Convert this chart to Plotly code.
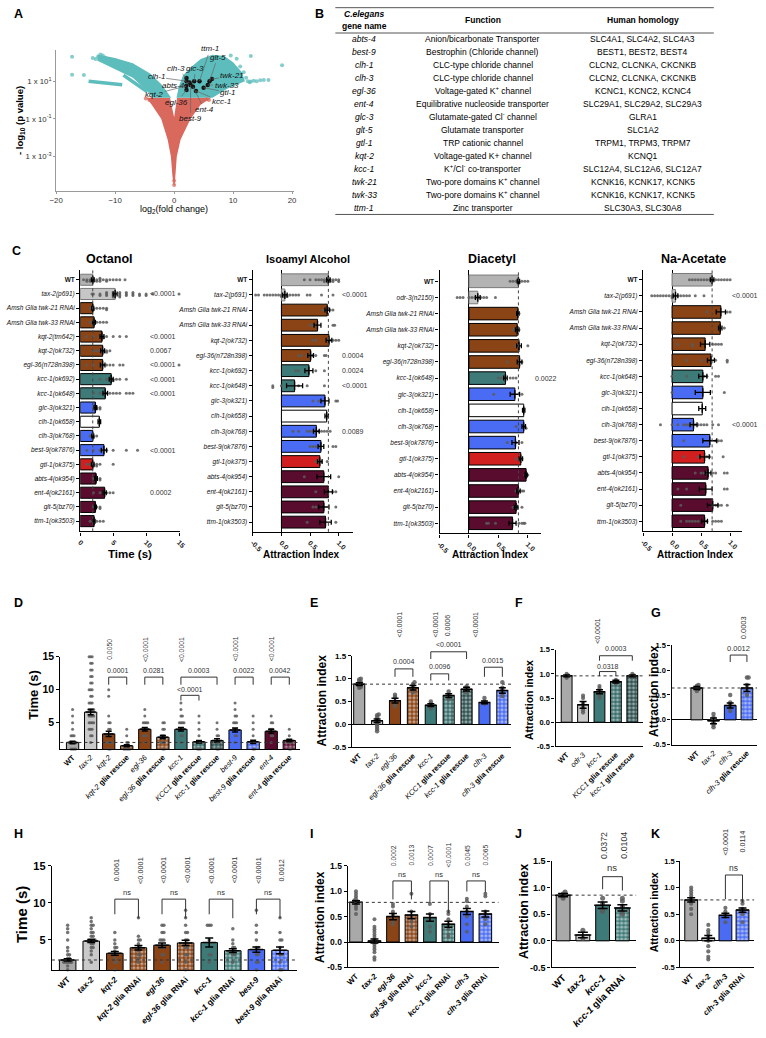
import math
import plotly.graph_objects as go

W, H = 766, 1038
FONT = "Liberation Sans, Arial, sans-serif"


def fx(p):
    return p / W


def fy(p):
    return 1 - p / H


# ---------------------------------------------------------------- colours
GREY = "#a9a9a9"
LGREY = "#c9c9c9"
BROWN = "#8b4416"
TEAL = "#3e7a77"
TEAL2 = "#356a67"
TEAL3 = "#2b4f4e"
BLUE = "#4a6cf4"
RED = "#d11f1f"
MAROON = "#5a0c2e"
WHITE = "#ffffff"
DOT = "#5b5b5b"
VTEAL = "#5dbcbc"
VRED = "#d9685d"

# ---------------------------------------------------------------- panel A data
volc_up_left_x = [-13.0, -10.0, -7.0, -4.0, -2.0, -0.8, -0.5, -3.5, -5.0, -7.0, -9.0, -11.0, -13.0]
volc_up_left_y = [260, 170, 90, 25, 6, 1.6, 1.3, 1.3, 4, 15, 30, 60, 120]
volc_up_right_x = [0.4, 0.8, 1.5, 3.0, 4.5, 6.5, 8.5, 10.0, 11.5, 12.0, 9.0, 6.5]
volc_up_right_y = [1.3, 5, 20, 60, 150, 250, 220, 100, 30, 10, 4, 1.3]
volc_ns_x = [-4.7, -0.7, 0.0, 0.5, 6.3, 4.5, 2.8, 1.1, 0.45, 0.25, 0.1, -0.1, -0.3, -0.55, -1.1, -2.2, -3.8]
volc_ns_y = [1.3, 1.3, 0.12, 1.3, 1.3, 0.55, 0.1, 0.008, 0.001, 0.0001, 0.00003, 0.00003, 0.0001, 0.001, 0.008, 0.1, 0.55]
volc_streak1_x = [-14.5, -8.8]
volc_streak1_y = [10, 6.5]
volc_streak2_x = [-8.6, -4.6]
volc_streak2_y = [21, 2.8]
volc_sig_pts_x = [-17.3, -17.3, -15.3, -13.8, -13.3, -12.9, -12.5, -12.1, -11.7, -11.0, -10.4, -9.8, -9.0, -8.2,
                  -7.5, -6.8, -6.0, -5.2, -4.5, 10.6, 12.5, 13.0, 13.5, 14.0, 14.6, 15.2, 16.0, 12.8, 18.3, 13.0,
                  9.6, 11.8, 8.5, 7.2, 11.2, 12.2]
volc_sig_pts_y = [200, 22, 21, 168, 150, 200, 260, 230, 180, 150, 120, 90, 70, 60, 45, 30, 20, 12, 8, 157, 10,
                  9.5, 10.5, 10, 11, 11.5, 11.5, 8.8, 69, 215, 230, 30, 40, 25, 60, 15]
volc_ns_pts_x = [0.0, 0.0, -4.8, -4.2, -3.8, 5.5, 5.9]
volc_ns_pts_y = [0.00005, 0.00003, 1.2, 1.0, 1.1, 1.1, 1.0]
gene_names = ["ttm-1", "glt-5", "clh-3", "glc-3", "clh-1", "twk-21", "abts-4", "twk-33", "kqt-2", "gtl-1",
              "egl-36", "kcc-1", "ent-4", "best-9"]
gene_fc = [4.3, 6.0, 2.1, 3.4, 2.1, 6.4, 2.6, 5.7, 2.06, 5.0, 2.1, 3.7, 3.2, 2.8]
gene_p = [10, 10, 14.9, 10, 10, 12.8, 8.5, 6.2, 5.5, 4.5, 3.4, 3.0, 5.0, 6.2]

# ---------------------------------------------------------------- panel B data
B_genes = ["abts-4", "best-9", "clh-1", "clh-3", "egl-36", "ent-4", "glc-3", "glt-5", "gtl-1", "kqt-2",
           "kcc-1", "twk-21", "twk-33", "ttm-1"]
B_function = ["Anion/bicarbonate Transporter", "Bestrophin (Chloride channel)", "CLC-type chloride channel",
              "CLC-type chloride channel", "Voltage-gated K<sup>+</sup> channel",
              "Equilibrative nucleoside transporter", "Glutamate-gated Cl<sup>-</sup> channel",
              "Glutamate transporter", "TRP cationic channel", "Voltage-gated K+ channel",
              "K<sup>+</sup>/Cl<sup>-</sup> co-transporter", "Two-pore domains K<sup>+</sup> channel",
              "Two-pore domains K<sup>+</sup> channel", "Zinc transporter"]
B_human = ["SLC4A1, SLC4A2, SLC4A3", "BEST1, BEST2, BEST4", "CLCN2, CLCNKA, CKCNKB", "CLCN2, CLCNKA, CKCNKB",
           "KCNC1, KCNC2, KCNC4", "SLC29A1, SLC29A2, SLC29A3", "GLRA1", "SLC1A2", "TRPM1, TRPM3, TRPM7", "KCNQ1",
           "SLC12A4, SLC12A6, SLC12A7", "KCNK16, KCNK17, KCNK5", "KCNK16, KCNK17, KCNK5", "SLC30A3, SLC30A8"]

# ---------------------------------------------------------------- panel C data
OCT_cats = ["WT", "tax-2(p691)", "Amsh Glia twk-21 RNAi", "Amsh Glia twk-33 RNAi", "kqt-2(tm642)", "kqt-2(ok732)",
            "egl-36(n728n398)", "kcc-1(ok692)", "kcc-1(ok648)", "glc-3(ok321)", "clh-1(ok658)", "clh-3(ok768)",
            "best-9(ok7876)", "gtl-1(ok375)", "abts-4(ok954)", "ent-4(ok2161)", "glt-5(bz70)", "ttm-1(ok3503)"]
OCT_mean = [1.9, 5.3, 1.9, 2.1, 3.3, 3.4, 3.4, 4.7, 3.8, 2.3, 2.9, 1.9, 3.6, 1.9, 2.4, 3.7, 2.3, 2.1]
OCT_sem = [0.2, 0.3, 0.15, 0.2, 0.3, 0.3, 0.35, 0.3, 0.35, 0.2, 0.2, 0.15, 0.4, 0.2, 0.2, 0.25, 0.15, 0.15]
OCT_pts = [[0.5, 1, 1, 1.5, 1.5, 2, 2, 2, 2.5, 2.5, 3, 3, 3, 3.5, 4, 4, 4.5, 5, 5.5, 6, 6.8],
           [1.8, 2, 3, 3, 4, 4, 4, 5, 5, 5, 5, 6, 6, 6, 6, 7, 7, 7, 8, 8, 8, 9, 9, 10, 10, 11, 15],
           [1.5, 2, 2, 2.5, 3, 3.5, 4, 4],
           [1.5, 2, 2.5, 3, 3.5, 4],
           [1, 2, 3, 3.5, 3.5, 4, 5, 6, 7],
           [2, 2.5, 3, 3.5, 3.5, 4, 4, 4.5],
           [1, 2, 3, 3.5, 4, 4.5, 5, 6, 6.5, 15],
           [3, 4, 4.5, 5, 5, 5.5, 6, 7],
           [2, 3, 3.5, 4, 4.5, 5, 5.5, 6, 7, 7.5, 8],
           [2, 2.5, 2.5, 3, 3],
           [],
           [1.5, 2, 2, 2.5],
           [1, 2, 3, 3.5, 4, 5, 7, 8.7],
           [1, 1.5, 2, 2, 2.5, 2.5, 3, 5],
           [2, 2.5, 3, 3],
           [2, 3, 3.5, 4, 4.5, 5],
           [2, 2.5, 3, 3],
           [1.5, 2, 2.5, 3, 3.5]]
OCT_p_rows = [1, 4, 5, 6, 7, 8, 12, 15]
OCT_p_text = ["<0.0001", "<0.0001", "0.0067", "<0.0001", "<0.0001", "<0.0001", "<0.0001", "0.0002"]

ISO_cats = ["WT", "tax-2(p691)", "Amsh Glia twk-21 RNAi", "Amsh Glia twk-33 RNAi", "kqt-2(ok732)",
            "egl-36(n728n398)", "kcc-1(ok692)", "kcc-1(ok648)", "glc-3(ok321)", "clh-1(ok658)", "clh-3(ok768)",
            "best-9(ok7876)", "gtl-1(ok375)", "abts-4(ok954)", "ent-4(ok2161)", "glt-5(bz70)", "ttm-1(ok3503)"]
ISO_mean = [0.82, 0.06, 0.80, 0.63, 0.83, 0.51, 0.48, 0.23, 0.76, 0.79, 0.61, 0.69, 0.67, 0.74, 0.82, 0.74, 0.77]
ISO_sem = [0.03, 0.04, 0.04, 0.06, 0.05, 0.05, 0.07, 0.14, 0.07, 0.03, 0.05, 0.05, 0.04, 0.12, 0.07, 0.09, 0.1]
ISO_pts = [[0.4, 0.5, 0.6, 0.65, 0.7, 0.75, 0.75, 0.8, 0.8, 0.85, 0.85, 0.9, 0.9, 0.95, 1.0, 1.0],
           [-0.45, -0.4, -0.3, -0.25, -0.2, -0.15, -0.1, -0.05, 0, 0, 0.05, 0.05, 0.1, 0.1, 0.15, 0.2, 0.25, 0.3,
            0.45, 0.5, 0.7, 0.9],
           [0.72, 0.8, 0.85, 0.9],
           [0.5, 0.55, 0.6, 0.9, 0.93],
           [0.55, 0.6, 0.8, 0.85, 0.9, 0.95, 1.0],
           [0.3, 0.35, 0.45, 0.5, 0.55, 0.6, 0.75, 0.78],
           [0.25, 0.3, 0.45, 0.6, 0.75],
           [-0.15, -0.15, 0.0, 0.3, 0.45, 0.75],
           [0.55, 0.65, 0.95, 0.98],
           [],
           [0.2, 0.3, 0.45, 0.5, 0.55, 0.6, 0.65, 0.7, 0.75, 0.8, 0.85],
           [0.5, 0.55, 0.6, 0.65, 0.9, 0.95],
           [0.6, 0.65, 0.7, 0.8],
           [0.4, 1.0],
           [0.6, 0.9, 0.95],
           [0.55, 0.6, 0.95],
           [0.45, 0.95]]
ISO_p_rows = [1, 5, 6, 7, 10]
ISO_p_text = ["<0.0001", "0.0004", "0.0024", "<0.0001", "0.0089"]

DIA_cats = ["WT", "odr-3(n2150)", "Amsh Glia twk-21 RNAi", "Amsh Glia twk-33 RNAi", "kqt-2(ok732)",
            "egl-36(n728n398)", "kcc-1(ok648)", "glc-3(ok321)", "clh-1(ok658)", "clh-3(ok768)", "best-9(ok7876)",
            "gtl-1(ok375)", "abts-4(ok954)", "ent-4(ok2161)", "glt-5(bz70)", "ttm-1(ok3503)"]
DIA_mean = [0.84, 0.15, 0.83, 0.82, 0.85, 0.86, 0.62, 0.78, 0.93, 0.93, 0.79, 0.88, 0.97, 0.84, 0.80, 0.74]
DIA_sem = [0.02, 0.04, 0.02, 0.03, 0.04, 0.04, 0.03, 0.08, 0.02, 0.03, 0.06, 0.03, 0.02, 0.03, 0.03, 0.06]
DIA_pts = [[0.7, 0.75, 0.8, 0.85, 0.85, 0.9, 0.95, 1.0],
           [-0.2, -0.15, -0.1, 0.0, 0.05, 0.1, 0.15, 0.2, 0.25, 0.3, 0.45],
           [0.85],
           [0.75, 0.85],
           [0.8, 1.0],
           [0.65, 0.85, 0.9],
           [0.5, 0.55, 0.6, 0.7, 0.75, 0.8],
           [0.42, 0.9],
           [],
           [0.8, 0.95, 0.97],
           [0.65, 0.8, 0.9],
           [0.8, 0.9],
           [0.95, 1.0],
           [0.8, 0.85, 0.9, 0.93],
           [0.75, 0.8, 0.9],
           [0.3, 0.33, 0.45, 0.85, 0.9, 0.93, 0.95]]
DIA_p_rows = [6]
DIA_p_text = ["0.0022"]

NA_cats = ["WT", "tax-2(p691)", "Amsh Glia twk-21 RNAi", "Amsh Glia twk-33 RNAi", "kqt-2(ok732)",
           "egl-36(n728n398)", "kcc-1(ok648)", "glc-3(ok321)", "clh-1(ok658)", "clh-3(ok768)", "best-9(ok7876)",
           "gtl-1(ok375)", "abts-4(ok954)", "ent-4(ok2161)", "glt-5(bz70)", "ttm-1(ok3503)"]
NA_mean = [0.69, 0.06, 0.84, 0.83, 0.57, 0.67, 0.53, 0.53, 0.52, 0.37, 0.65, 0.56, 0.62, 0.58, 0.70, 0.56]
NA_sem = [0.03, 0.04, 0.08, 0.03, 0.08, 0.06, 0.07, 0.13, 0.06, 0.06, 0.12, 0.08, 0.05, 0.11, 0.09, 0.05]
NA_pts = [[0.3, 0.35, 0.4, 0.45, 0.5, 0.55, 0.6, 0.65, 0.7, 0.75, 0.8, 0.85, 0.9, 0.95, 1.0],
          [-0.35, -0.3, -0.25, -0.2, -0.15, -0.1, -0.05, 0, 0, 0.05, 0.1, 0.15, 0.2, 0.25, 0.3, 0.4, 0.55],
          [0.6, 0.95, 1.0],
          [0.8, 0.9],
          [0.1, 0.35, 0.35, 0.7, 0.75, 0.8, 0.85],
          [0.25, 0.5, 0.75, 0.95, 0.95],
          [0.0, 0.25, 0.55, 0.6, 0.75, 0.8],
          [0.0, 0.9],
          [],
          [-0.2, 0.0, 0.1, 0.2, 0.25, 0.3, 0.35, 0.4, 0.45, 0.5, 0.55, 0.6, 0.7, 0.8],
          [0.2, 0.75, 0.8, 0.85],
          [0.2, 0.45, 0.6, 0.65, 0.88],
          [0.4, 0.5, 0.55, 0.6, 0.7, 0.75, 0.9, 0.95],
          [0.1, 0.25, 0.9, 0.95],
          [0.15, 0.75, 0.8, 0.85, 0.95],
          [0.15, 0.25, 0.3, 0.35, 0.4, 0.45, 0.6, 0.7, 0.75, 0.8, 0.85]]
NA_p_rows = [1, 9]
NA_p_text = ["<0.0001", "<0.0001"]

# ---------------------------------------------------------------- panels D-G data
D_cats = ["WT", "tax-2", "kqt-2", "kqt-2 glia rescue", "egl-36", "egl-36 glia rescue", "kcc-1",
          "KCC1 glia rescue", "kcc-1 glia rescue", "best-9", "best-9 glia rescue", "ent-4", "ent-4 glia rescue"]
D_mean = [2.0, 6.6, 3.3, 1.5, 4.0, 2.8, 4.0, 2.1, 2.3, 3.9, 2.1, 3.7, 2.3]
D_sem = [0.2, 0.4, 0.4, 0.15, 0.25, 0.25, 0.25, 0.2, 0.25, 0.3, 0.25, 0.3, 0.2]
D_pts = [[1, 1, 1, 1, 2, 2, 2, 2, 2, 3, 3, 3, 4, 5, 6, 7],
         [2, 3, 3, 4, 4, 4, 5, 5, 5, 5, 6, 6, 6, 6, 7, 7, 7, 7, 8, 8, 8, 9, 9, 10, 10, 10, 11, 11, 12, 12, 13, 13,
          14, 14, 15, 15, 15],
         [1, 1, 2, 2, 2, 2, 3, 3, 3, 4, 4, 5, 5, 6, 9, 10],
         [1, 1, 1, 1, 1, 2, 2, 3, 4],
         [2, 3, 3, 3, 4, 4, 4, 4, 4, 5, 5, 5, 5, 6, 7],
         [1, 1, 2, 2, 2, 3, 3, 3, 4, 4, 5, 5],
         [2, 3, 3, 4, 4, 4, 4, 5, 5, 5, 5, 6, 6, 7, 8],
         [1, 1, 1, 2, 2, 2, 2, 3, 4, 5, 6],
         [1, 1, 2, 2, 2, 3, 3, 4, 5],
         [2, 3, 3, 4, 4, 4, 5, 5, 5, 6, 6, 7, 8],
         [1, 1, 2, 2, 2, 3, 4, 5, 6],
         [2, 3, 3, 4, 4, 4, 5, 5, 6],
         [1, 1, 2, 2, 2, 3, 4]]
D_colors = [GREY, LGREY, BROWN, BROWN, BROWN, BROWN, TEAL, TEAL2, TEAL3, BLUE, BLUE, MAROON, MAROON]
D_fills = ["", "", "", "rescue", "", "rescue", "", "rescue", "rescue", "", "rescue", "", "rescue"]
D_rot_bars = [2, 4, 6, 9, 11]
D_rot_text = ["0.0050", "<0.0001", "<0.0001", "<0.0001", "<0.0001"]

E_cats = ["WT", "tax-2", "egl-36", "egl-36 glia rescue", "kcc-1", "KCC1 glia rescue", "kcc-1 glia rescue",
          "clh-3", "clh-3 glia rescue"]
E_mean = [0.88, 0.08, 0.52, 0.80, 0.42, 0.63, 0.77, 0.48, 0.74]
E_sem = [0.03, 0.04, 0.05, 0.05, 0.03, 0.04, 0.04, 0.03, 0.06]
E_pts = [[0.8, 0.82, 0.85, 0.87, 0.9, 0.92, 0.95, 0.98, 1.0],
         [-0.15, -0.1, -0.05, 0.0, 0.05, 0.1, 0.15, 0.2, 0.22],
         [0.4, 0.45, 0.5, 0.6, 0.65],
         [0.7, 0.75, 0.8, 0.88, 0.92],
         [0.35, 0.4, 0.45, 0.5],
         [0.55, 0.6, 0.65, 0.72],
         [0.7, 0.75, 0.8, 0.83],
         [0.45, 0.5, 0.58],
         [0.62, 0.7, 0.75, 0.8, 0.92]]
E_colors = [GREY, LGREY, BROWN, BROWN, TEAL, TEAL2, TEAL3, BLUE, BLUE]
E_fills = ["", "", "", "rescue", "", "rescue", "rescue", "", "rescue"]
E_rot_px = [399.3, 436, 448, 476.7]
E_rot_text = ["<0.0001", "<0.0001", "0.0006", "<0.0001"]

F_cats = ["WT", "odr-3", "kcc-1", "KCC1 glia rescue", "kcc-1 glia rescue"]
F_mean = [0.96, 0.36, 0.63, 0.84, 0.96]
F_sem = [0.02, 0.07, 0.04, 0.03, 0.02]
F_pts = [[0.92, 0.95, 0.97, 1.0],
         [0.2, 0.25, 0.3, 0.35, 0.4, 0.5, 0.55],
         [0.5, 0.55, 0.6, 0.65, 0.7, 0.75],
         [0.8, 0.85, 0.88],
         [0.93, 0.97, 1.0]]
F_colors = [GREY, LGREY, TEAL, TEAL2, TEAL3]
F_fills = ["", "", "", "rescue", "rescue"]
F_rot_px = [600]
F_rot_text = ["<0.0001"]

G_cats = ["WT", "tax-2", "clh-3", "clh-3 glia rescue"]
G_mean = [0.64, -0.02, 0.29, 0.64]
G_sem = [0.03, 0.06, 0.05, 0.07]
G_pts = [[0.58, 0.62, 0.65, 0.68, 0.7],
         [-0.15, -0.1, -0.05, 0.0, 0.05, 0.12],
         [0.18, 0.25, 0.3, 0.35, 0.5],
         [0.5, 0.6, 0.7, 0.85, 0.85]]
G_colors = [GREY, LGREY, BLUE, BLUE]
G_fills = ["", "", "", "rescue"]
G_rot_px = [749.3]
G_rot_text = ["0.0003"]

# ---------------------------------------------------------------- panels H-K data
H_cats = ["WT", "tax-2", "kqt-2", "kqt-2 glia RNAi", "egl-36", "egl-36 glia RNAi", "kcc-1", "kcc-1 glia RNAi",
          "best-9", "best-9 glia RNAi"]
H_mean = [2.3, 4.85, 3.2, 3.95, 4.3, 4.6, 4.65, 3.55, 3.7, 3.6]
H_sem = [0.15, 0.2, 0.25, 0.3, 0.3, 0.35, 0.6, 0.25, 0.35, 0.45]
H_pts = [[1, 1.5, 2, 2, 2, 2, 2, 2.5, 2.5, 3, 3, 3.5, 4, 5, 6, 6.5, 7],
         [2, 3, 3.5, 4, 4, 4.5, 4.5, 5, 5, 5, 5, 5.5, 5.5, 6, 6, 6.5, 7, 7, 7.5, 8],
         [1, 2, 2, 2.5, 3, 3, 3, 3.5, 4, 4, 4.5, 5, 6],
         [2, 2.5, 3, 3, 3.5, 4, 4, 4.5, 5, 5, 5.5, 8],
         [2, 3, 3, 4, 4, 4, 5, 5, 5, 6, 6, 7, 7],
         [1, 2, 3, 3, 4, 4, 5, 5, 6, 6, 7, 8, 9],
         [2, 3, 3, 5, 7, 7, 7],
         [2, 3, 3, 3.5, 3.5, 4, 4, 4.5, 5, 6.5],
         [1, 2, 2, 3, 3, 4, 4, 5, 6, 7, 9],
         [1, 1, 2, 3, 3, 4, 5, 5, 6, 8]]
H_colors = [GREY, LGREY, BROWN, BROWN, BROWN, BROWN, TEAL, TEAL, BLUE, BLUE]
H_fills = ["", "", "", "rnai", "", "rnai", "", "rnai", "", "rnai"]
H_rot_bars = [2, 3, 4, 5, 6, 7, 8, 9]
H_rot_text = ["0.0061", "<0.0001", "<0.0001", "<0.0001", "<0.0001", "<0.0001", "<0.0001", "0.0012"]

I_cats = ["WT", "tax-2", "egl-36", "egl-36 glia RNAi", "kcc-1", "kcc-1 glia RNAi", "clh-3", "clh-3 glia RNAi"]
I_mean = [0.78, 0.02, 0.50, 0.53, 0.48, 0.35, 0.60, 0.55]
I_sem = [0.03, 0.04, 0.06, 0.07, 0.07, 0.06, 0.06, 0.06]
I_pts = [[0.55, 0.65, 0.7, 0.75, 0.78, 0.8, 0.82, 0.85, 0.9, 0.95, 1.0],
         [-0.35, -0.3, -0.2, -0.15, -0.1, -0.05, 0.0, 0.0, 0.05, 0.1, 0.15, 0.2, 0.25, 0.3, 0.45],
         [0.35, 0.4, 0.45, 0.5, 0.55, 0.6, 0.7, 0.75],
         [0.3, 0.4, 0.5, 0.6, 0.95],
         [0.2, 0.3, 0.45, 0.55, 0.75],
         [0.1, 0.15, 0.25, 0.35, 0.45, 0.55, 0.6],
         [0.2, 0.35, 0.5, 0.6, 0.7, 0.8, 0.85],
         [0.35, 0.45, 0.55, 0.6, 0.9, 0.95]]
I_colors = [GREY, LGREY, BROWN, BROWN, TEAL, TEAL, BLUE, BLUE]
I_fills = ["", "", "", "rnai", "", "rnai", "", "rnai"]
I_rot_bars = [2, 3, 4, 5, 6, 7]
I_rot_text = ["0.0002", "0.0013", "0.0007", "<0.0001", "0.0045", "0.0065"]

J_cats = ["WT", "tax-2", "kcc-1", "kcc-1 glia RNAi"]
J_mean = [0.86, 0.11, 0.67, 0.62]
J_sem = [0.03, 0.05, 0.06, 0.06]
J_pts = [[0.8, 0.85, 0.88, 0.92],
         [0.05, 0.2],
         [0.55, 0.6, 0.7, 0.8],
         [0.5, 0.55, 0.65, 0.75, 0.8]]
J_colors = [GREY, LGREY, TEAL, TEAL]
J_fills = ["", "", "", "rnai"]
J_rot_bars = [2, 3]
J_rot_text = ["0.0372", "0.0104"]

K_cats = ["WT", "tax-2", "clh-3", "clh-3 glia RNAi"]
K_mean = [0.77, 0.05, 0.48, 0.58]
K_sem = [0.04, 0.05, 0.04, 0.04]
K_pts = [[0.5, 0.6, 0.7, 0.75, 0.8, 0.85, 0.9, 0.95, 1.0],
         [-0.35, -0.3, -0.2, -0.1, 0.0, 0.05, 0.1, 0.15, 0.2, 0.3],
         [0.35, 0.45, 0.5, 0.55, 0.62],
         [0.35, 0.5, 0.55, 0.6, 0.7, 0.75]]
K_colors = [GREY, LGREY, BLUE, BLUE]
K_fills = ["", "", "", "rnai"]
K_rot_bars = [2, 3]
K_rot_text = ["<0.0001", "0.0114"]

# ================================================================ figure
fig = go.Figure()
LAYOUT = {}
ANN = []
SHP = []
_n = [0]


def make_axes(xdom, ydom, xk, yk):
    _n[0] += 1
    s = "" if _n[0] == 1 else str(_n[0])
    xk = dict(xk)
    yk = dict(yk)
    xk.update(domain=[fx(xdom[0]), fx(xdom[1])], anchor="y" + s)
    yk.update(domain=[fy(ydom[1]), fy(ydom[0])], anchor="x" + s)
    LAYOUT["xaxis" + s] = xk
    LAYOUT["yaxis" + s] = yk
    return "x" + s, "y" + s


def base_axis():
    return dict(showline=True, linecolor="black", linewidth=1.4, ticks="outside", ticklen=3, tickwidth=1.1,
                tickcolor="black", showgrid=False, zeroline=False, fixedrange=True,
                tickfont=dict(family=FONT, size=8, color="black"))


def text(x, y, s, size, xref="paper", yref="paper", angle=0, xanchor="center", yanchor="middle",
         color="black"):
    ANN.append(dict(x=x, y=y, xref=xref, yref=yref, text=s, showarrow=False, textangle=angle,
                    xanchor=xanchor, yanchor=yanchor, font=dict(family=FONT, size=size, color=color)))


def swarm(vals, binw, d):
    counts = {}
    offs = []
    pattern = [0, 1, -1, 2, -2, 3, -3, 4, -4, 5, -5]
    for v in vals:
        k = round(v / binw)
        c = counts.get(k, 0)
        counts[k] = c + 1
        offs.append(pattern[c % len(pattern)] * d)
    return offs


# ---------------------------------------------------------------- panel A
A_geo = dict(xdom=(50, 292), ydom=(44, 187), xr=(-20, 20.33), yr=(-4.84, 2.68))
ak = dict(showline=True, linecolor="#9a9a9a", linewidth=1.2, ticks="outside", ticklen=2, tickcolor="#9a9a9a",
          showgrid=False, zeroline=False, fixedrange=True, tickfont=dict(family=FONT, size=7.8, color="#333"))
xA = dict(ak, range=list(A_geo["xr"]), tickvals=[-20, -10, 0, 10, 20])
yA = dict(ak, type="log", range=list(A_geo["yr"]), tickvals=[10, 0.1, 0.001],
          ticktext=["1 x 10<sup>1</sup>", "1 x 10<sup>-1</sup>", "1 x 10<sup>-3</sup>"])
axA, ayA = make_axes(A_geo["xdom"], A_geo["ydom"], xA, yA)
poly = dict(mode="lines", fill="toself", line=dict(width=0), xaxis=axA, yaxis=ayA, hoverinfo="skip")
fig.add_trace(go.Scatter(x=volc_ns_x, y=volc_ns_y, fillcolor=VRED, **poly))
fig.add_trace(go.Scatter(x=volc_up_left_x, y=volc_up_left_y, fillcolor=VTEAL, **poly))
fig.add_trace(go.Scatter(x=volc_up_right_x, y=volc_up_right_y, fillcolor=VTEAL, **poly))
for sx, sy in [(volc_streak1_x, volc_streak1_y), (volc_streak2_x, volc_streak2_y)]:
    fig.add_trace(go.Scatter(x=sx, y=sy, mode="lines", line=dict(color=VTEAL, width=3.5), xaxis=axA,
                             yaxis=ayA))
fig.add_trace(go.Scatter(x=volc_sig_pts_x, y=volc_sig_pts_y, mode="markers",
                         marker=dict(size=4, color=VTEAL, opacity=0.75), xaxis=axA, yaxis=ayA))
fig.add_trace(go.Scatter(x=volc_ns_pts_x, y=volc_ns_pts_y, mode="markers",
                         marker=dict(size=4, color=VRED, opacity=0.75), xaxis=axA, yaxis=ayA))
fig.add_trace(go.Scatter(x=gene_fc, y=gene_p, mode="markers", marker=dict(size=4.5, color="#151515"),
                         xaxis=axA, yaxis=ayA))

gene_lbl_px = [(206.7, 43.3), (214.3, 51.7), (172.3, 62.7), (191.7, 62.7), (151.7, 71.7), (229.3, 70.7),
               (169, 80), (223.3, 80), (150, 89), (225, 87.5), (172.7, 97.3), (218, 96.5), (201, 105),
               (186.7, 114)]


def a_px_to_x(p):
    a, b = A_geo["xdom"]
    r0, r1 = A_geo["xr"]
    return r0 + (p - a) / (b - a) * (r1 - r0)


def a_px_to_logy(p):
    a, b = A_geo["ydom"]
    r0, r1 = A_geo["yr"]
    return r1 - (p - a) / (b - a) * (r1 - r0)


for name, gx, gp, (lx, ly) in zip(gene_names, gene_fc, gene_p, gene_lbl_px):
    ANN.append(dict(x=gx, y=math.log10(gp), xref=axA, yref=ayA, ax=a_px_to_x(lx), ay=a_px_to_logy(ly),
                    axref=axA, ayref=ayA, text="<i>%s</i>" % name, showarrow=True, arrowhead=0,
                    arrowwidth=0.7, arrowcolor="#666", standoff=0,
                    font=dict(family=FONT, size=8, color="#111")))

text(fx(170), fy(206), "log<sub>2</sub>(fold change)", 9)
text(fx(12.5), fy(116), "<b>- log<sub>10</sub> (p value)</b>", 9.5, angle=-90)

# ---------------------------------------------------------------- panel B
B_row0, B_step = 33.3, 13.13
B_cols = (363.3, 484, 646.7)
for i, (g, f, h) in enumerate(zip(B_genes, B_function, B_human)):
    y = fy(B_row0 + B_step * i)
    text(fx(B_cols[0]), y, "<i>%s</i>" % g, 8.5)
    text(fx(B_cols[1]), y, f, 8.5)
    text(fx(B_cols[2]), y, h, 8.5)
text(fx(B_cols[0]), fy(8), "<b><i>C.elegans</i></b>", 8.5)
text(fx(B_cols[0]), fy(20.7), "<b>gene name</b>", 8.5)
text(fx(B_cols[1]), fy(14), "<b>Function</b>", 8.5)
text(fx(B_cols[2]), fy(14), "<b>Human homology</b>", 8.5)
for yy in (1.7, 27.3, 210.7):
    SHP.append(dict(type="line", xref="paper", yref="paper", x0=fx(334), x1=fx(719), y0=fy(yy), y1=fy(yy),
                    line=dict(color="#555", width=1)))

# ---------------------------------------------------------------- panel C
ROW_COLOR = [("WT", "#b3b3b3"), ("tax-2", "#c6c6c6"), ("odr-3", "#c6c6c6"), ("Amsh", BROWN), ("kqt-2", BROWN),
             ("egl-36", BROWN), ("kcc-1", TEAL), ("glc-3", BLUE), ("clh-1", WHITE), ("clh-3", BLUE),
             ("best-9", BLUE), ("gtl-1", RED), ("abts-4", MAROON), ("ent-4", MAROON), ("glt-5", MAROON),
             ("ttm-1", MAROON)]


def row_color(lbl):
    for k, v in ROW_COLOR:
        if lbl.startswith(k):
            return v
    return GREY


def fmt_row(lbl):
    return "<b>WT</b>" if lbl == "WT" else "<i>%s</i>" % lbl


def hpanel(g, cats, means, sems, pts, p_rows, p_text):
    n = len(cats)
    idx = list(range(n))
    yr = [(g["ydom"][1] - g["row0"]) / g["step"], (g["ydom"][0] - g["row0"]) / g["step"]]
    xk = base_axis()
    xk.update(range=g["xr"], tickvals=g["xt"], ticktext=["<b>%s</b>" % t for t in g["xtt"]], tickangle=45,
              tickfont=dict(family=FONT, size=7, color="#222"))
    if g["zero"]:
        xk.update(zeroline=True, zerolinecolor="black", zerolinewidth=1.4)
    yk = base_axis()
    yk.update(range=yr, tickvals=idx, ticktext=[fmt_row(c) for c in cats],
              tickfont=dict(family=FONT, size=6.5, color="#111"))
    xa, ya = make_axes(g["xdom"], g["ydom"], xk, yk)
    cols = [row_color(c) for c in cats]
    lcols = ["#7a7a7a" if c in ("#b3b3b3", "#c6c6c6") else "black" for c in cols]
    fig.add_trace(go.Bar(x=means, y=idx, orientation="h", width=0.78,
                         marker=dict(color=cols, line=dict(color=lcols, width=1)), xaxis=xa, yaxis=ya))
    xs, ys = [], []
    span = g["xr"][1] - g["xr"][0]
    for i, vals in enumerate(pts):
        for v, o in zip(vals, swarm(vals, span * 0.02, 0.11)):
            xs.append(v)
            ys.append(i + o)
    fig.add_trace(go.Scatter(x=xs, y=ys, mode="markers", marker=dict(size=3, color=DOT, opacity=0.85),
                             xaxis=xa, yaxis=ya, cliponaxis=False))
    fig.add_trace(go.Scatter(x=means, y=idx, mode="markers",
                             marker=dict(symbol="line-ns", size=6, line=dict(width=1.4, color="black")),
                             error_x=dict(type="data", array=sems, color="black", thickness=1.3, width=2.5),
                             xaxis=xa, yaxis=ya))
    SHP.append(dict(type="line", xref=xa, yref=ya + " domain", x0=means[0], x1=means[0], y0=0, y1=1,
                    line=dict(color="#444", width=1, dash="dot")))
    for r, t in zip(p_rows, p_text):
        text(fx(g["pvx"]), r, t, 7, yref=ya, xanchor="left", color="#333")
    text(fx(g["title_x"]), fy(256), "<b>%s</b>" % g["title"], g["title_fs"])
    text(fx(g["xtitle_x"]), fy(554), "<b>%s</b>" % g["xtitle"], g["xtitle_fs"])


ATT_T = [-0.5, 0, 0.5, 1.0]
ATT_TT = ["-0.5", "0.0", "0.5", "1.0"]
OCT_geo = dict(xdom=(74.5, 176), ydom=(267, 531), row0=276.7, step=14.35, xr=[0, 15.15], xt=[0, 5, 10, 15],
               xtt=["0", "5", "10", "15"], zero=False, pvx=143, title="Octanol", title_x=104, title_fs=12.5,
               xtitle="Time (s)", xtitle_x=125, xtitle_fs=11.5)
ISO_geo = dict(xdom=(250, 352), ydom=(267, 531.5), row0=276.7, step=15.31, xr=[-0.5, 1.25], xt=ATT_T,
               xtt=ATT_TT, zero=True, pvx=338.5, title="Isoamyl Alcohol", title_x=306.7, title_fs=11,
               xtitle="Attraction Index", xtitle_x=300, xtitle_fs=10)
DIA_geo = dict(xdom=(440, 543), ydom=(267, 533), row0=278.3, step=16.3, xr=[-0.5, 1.22], xt=ATT_T,
               xtt=ATT_TT, zero=True, pvx=535, title="Diacetyl", title_x=493, title_fs=12.5,
               xtitle="Attraction Index", xtitle_x=492, xtitle_fs=10)
NA_geo = dict(xdom=(647, 748), ydom=(267, 531), row0=276.7, step=16.27, xr=[-0.5, 1.21], xt=ATT_T,
              xtt=ATT_TT, zero=True, pvx=735, title="Na-Acetate", title_x=698, title_fs=12.5,
              xtitle="Attraction Index", xtitle_x=700, xtitle_fs=10)
hpanel(OCT_geo, OCT_cats, OCT_mean, OCT_sem, OCT_pts, OCT_p_rows, OCT_p_text)
hpanel(ISO_geo, ISO_cats, ISO_mean, ISO_sem, ISO_pts, ISO_p_rows, ISO_p_text)
hpanel(DIA_geo, DIA_cats, DIA_mean, DIA_sem, DIA_pts, DIA_p_rows, DIA_p_text)
hpanel(NA_geo, NA_cats, NA_mean, NA_sem, NA_pts, NA_p_rows, NA_p_text)


# ---------------------------------------------------------------- vertical panels
def fmt_col(lbl, allbold):
    if lbl == "WT":
        return "<b>WT</b>"
    if " glia " in lbl:
        gname, rest = lbl.split(" ", 1)
        s = "<i>%s</i> <b>%s</b>" % (gname, rest)
    else:
        s = "<i>%s</i>" % lbl
    return "<b>%s</b>" % s if allbold else s


def vpanel(g, cats, means, sems, pts, colors, fills, rot_x, rot_text):
    n = len(cats)
    idx = list(range(n))
    xr = [(g["xdom"][0] - g["bar0"]) / g["step"], (g["xdom"][1] - g["bar0"]) / g["step"]]
    xk = base_axis()
    xk.update(range=xr, tickvals=idx, ticktext=[fmt_col(c, g["allbold"]) for c in cats], tickangle=-45,
              tickfont=dict(family=FONT, size=g["xfs"], color="black"), ticks="")
    yk = base_axis()
    yk.update(range=g["yr"], tickvals=g["yt"], ticktext=["<b>%s</b>" % t for t in g["ytt"]],
              tickfont=dict(family=FONT, size=g["yfs"], color="black"))
    if g["zero"]:
        yk.update(zeroline=True, zerolinecolor="black", zerolinewidth=1.4)
    xa, ya = make_axes(g["xdom"], g["ydom"], xk, yk)
    shapes, fg, bg = [], [], []
    for c, f in zip(colors, fills):
        if f == "rescue":
            shapes.append(".")
            fg.append("#141414")
            bg.append(c)
        elif f == "rnai":
            shapes.append(".")
            fg.append(c)
            bg.append("#ffffff")
        else:
            shapes.append("")
            fg.append(c)
            bg.append(c)
    fig.add_trace(go.Bar(x=idx, y=means, width=g["bw"],
                         marker=dict(color=colors, line=dict(color="black", width=1),
                                     pattern=dict(shape=shapes, fgcolor=fg, bgcolor=bg, size=4,
                                                  solidity=0.5)),
                         xaxis=xa, yaxis=ya))
    xs, ys = [], []
    span = g["yr"][1] - g["yr"][0]
    for i, vals in enumerate(pts):
        for v, o in zip(vals, swarm(vals, span * 0.025, g["jit"])):
            xs.append(i + o)
            ys.append(v)
    fig.add_trace(go.Scatter(x=xs, y=ys, mode="markers", marker=dict(size=g["ms"], color=DOT, opacity=0.85),
                             xaxis=xa, yaxis=ya, cliponaxis=False))
    fig.add_trace(go.Scatter(x=idx, y=means, mode="markers",
                             marker=dict(symbol="line-ew", size=g["cap"] * 2.4,
                                         line=dict(width=1.5, color="black")),
                             error_y=dict(type="data", array=sems, color="black", thickness=1.5,
                                          width=g["cap"]),
                             xaxis=xa, yaxis=ya))
    SHP.append(dict(type="line", xref=xa + " domain", yref=ya, x0=0, x1=1, y0=means[0], y1=means[0],
                    line=dict(color="#333", width=1, dash="dot")))
    for (i, j, top, li, lj, t, ty) in g["brackets"]:
        SHP.append(dict(type="path", xref=xa, yref="paper",
                        path="M %s,%s L %s,%s L %s,%s L %s,%s" % (i, fy(li), i, fy(top), j, fy(top), j, fy(lj)),
                        line=dict(color="#333", width=1)))
        text((i + j) / 2, fy(ty), t, g["bfs"], xref=xa, color="#333")
    for xv, t in zip(rot_x, rot_text):
        text(xv, fy(g["rot_y"]), t, g["pfs"], xref=xa, angle=-90, color="#333")
    text(fx(g["yt_x"]), fy(g["yt_y"]), "<b>%s</b>" % g["ytitle"], g["ytfs"], angle=-90)


def px_to_idx(g, p):
    return (p - g["bar0"]) / g["step"]


ATT_Y = [-0.5, 0, 0.5, 1.0, 1.5]
ATT_YT = ["-0.5", "0.0", "0.5", "1.0", "1.5"]
ATT_TITLE = "Attraction index"

D_geo = dict(xdom=(54.3, 298), ydom=(657.7, 751), yr=[1, 15], bar0=66.7, step=18.37, bw=0.68, yt=[5, 10, 15],
             ytt=["5", "10", "15"], yfs=10.5, xfs=7.5, allbold=False, zero=False, jit=0.085, ms=3, cap=3,
             brackets=[(2, 3, 678.3, 686, 686, "0.0001", 672), (4, 5, 678.3, 686, 686, "0.0281", 672),
                       (6, 8, 678.3, 686, 686, "0.0003", 672), (6, 7, 696.7, 702, 702, "<0.0001", 690.5),
                       (9, 10, 678.3, 686, 686, "0.0022", 672), (11, 12, 678.3, 686, 686, "0.0042", 672)],
             bfs=7, pfs=6.8, rot_y=650, ytitle="Time (s)", yt_x=26.7, yt_y=696, ytfs=13)
E_geo = dict(xdom=(351, 513), ydom=(656.7, 749.3), yr=[-0.5, 1.5], bar0=358.3, step=18.2, bw=0.62, yt=ATT_Y,
             ytt=ATT_YT, yfs=8, xfs=7.5, allbold=False, zero=True, jit=0.09, ms=4.5, cap=3.5,
             brackets=[(2, 3, 670, 678, 678, "0.0004", 662.7), (4, 5, 675, 681.7, 681.7, "0.0096", 667.3),
                       (4, 6, 652.7, 660, 660, "<0.0001", 645.7), (7, 8, 668.3, 678, 678, "0.0015", 661.7)],
             bfs=7, pfs=7, rot_y=625.5, ytitle=ATT_TITLE, yt_x=320.7, yt_y=701.7, ytfs=12)
F_geo = dict(xdom=(558, 647), ydom=(650.7, 748.3), yr=[-0.5, 1.5], bar0=569.3, step=16.7, bw=0.66, yt=ATT_Y,
             ytt=ATT_YT, yfs=7.5, xfs=7.5, allbold=False, zero=True, jit=0.09, ms=4.2, cap=3.5,
             brackets=[(2, 3, 672.7, 677.3, 677.3, "0.0318", 667.3), (2, 4, 656.7, 661.7, 661.7, "0.0003", 649.3)],
             bfs=7, pfs=7, rot_y=631.7, ytitle=ATT_TITLE, yt_x=530.5, yt_y=701, ytfs=10.5)
G_geo = dict(xdom=(676, 763), ydom=(646, 746.7), yr=[-0.5, 1.5], bar0=701.7, step=17, bw=0.7, yt=ATT_Y,
             ytt=ATT_YT, yfs=7.5, xfs=7.5, allbold=False, zero=True, jit=0.1, ms=4.5, cap=3.5,
             brackets=[(2, 3, 656, 663, 663, "0.0012", 649.3)],
             bfs=7.5, pfs=7.5, rot_y=628.3, ytitle=ATT_TITLE, yt_x=657.5, yt_y=692, ytfs=12)
H_geo = dict(xdom=(45.7, 295), ydom=(869, 974.7), yr=[0.9, 15], bar0=61.7, step=24, bw=0.7, yt=[5, 10, 15],
             ytt=["5", "10", "15"], yfs=11, xfs=8.2, allbold=True, zero=False, jit=0.08, ms=3.5, cap=4,
             brackets=[(2, 3, 902.7, 918, 922, "ns", 896), (4, 5, 902.7, 918, 922, "ns", 896),
                       (6, 7, 902.7, 918, 922, "ns", 896), (8, 9, 902.7, 918, 922, "ns", 896)],
             bfs=7.5, pfs=7.3, rot_y=873.3, ytitle="Time (s)", yt_x=15, yt_y=918, ytfs=15)
I_geo = dict(xdom=(346.7, 500), ydom=(869, 971.7), yr=[-0.5, 1.5], bar0=355, step=18.8, bw=0.68, yt=ATT_Y,
             ytt=ATT_YT, yfs=8.5, xfs=7.8, allbold=True, zero=True, jit=0.09, ms=4, cap=4,
             brackets=[(2, 3, 884.3, 903, 903, "ns", 877.3), (4, 5, 884.3, 906.7, 916.7, "ns", 877.3),
                       (6, 7, 884.3, 895, 896, "ns", 877.3)],
             bfs=7.5, pfs=6.8, rot_y=858.3, ytitle=ATT_TITLE, yt_x=318.3, yt_y=920.8, ytfs=12)
J_geo = dict(xdom=(554, 640), ydom=(864.3, 971.7), yr=[-0.5, 1.5], bar0=565.7, step=20.1, bw=0.7, yt=ATT_Y,
             ytt=ATT_YT, yfs=9, xfs=9.5, allbold=True, zero=True, jit=0.1, ms=5, cap=5,
             brackets=[(2, 3, 880, 892.7, 894, "ns", 871)],
             bfs=9.5, pfs=8.8, rot_y=848.3, ytitle=ATT_TITLE, yt_x=526.7, yt_y=915, ytfs=12.5)
K_geo = dict(xdom=(685, 760), ydom=(864.3, 971.7), yr=[-0.5, 1.5], bar0=696, step=17.4, bw=0.75, yt=ATT_Y,
             ytt=ATT_YT, yfs=7.5, xfs=7.8, allbold=True, zero=True, jit=0.1, ms=4.2, cap=4,
             brackets=[(2, 3, 878.3, 902.7, 906, "ns", 871)],
             bfs=8.5, pfs=7.3, rot_y=845, ytitle=ATT_TITLE, yt_x=658.3, yt_y=915.8, ytfs=10.5)

vpanel(D_geo, D_cats, D_mean, D_sem, D_pts, D_colors, D_fills, D_rot_bars, D_rot_text)
vpanel(E_geo, E_cats, E_mean, E_sem, E_pts, E_colors, E_fills, [px_to_idx(E_geo, p) for p in E_rot_px],
       E_rot_text)
vpanel(F_geo, F_cats, F_mean, F_sem, F_pts, F_colors, F_fills, [px_to_idx(F_geo, p) for p in F_rot_px],
       F_rot_text)
vpanel(G_geo, G_cats, G_mean, G_sem, G_pts, G_colors, G_fills, [px_to_idx(G_geo, p) for p in G_rot_px],
       G_rot_text)
vpanel(H_geo, H_cats, H_mean, H_sem, H_pts, H_colors, H_fills, [b + 0.06 for b in H_rot_bars], H_rot_text)
vpanel(I_geo, I_cats, I_mean, I_sem, I_pts, I_colors, I_fills, I_rot_bars, I_rot_text)
vpanel(J_geo, J_cats, J_mean, J_sem, J_pts, J_colors, J_fills, [b + 0.1 for b in J_rot_bars], J_rot_text)
vpanel(K_geo, K_cats, K_mean, K_sem, K_pts, K_colors, K_fills, K_rot_bars, K_rot_text)

# ---------------------------------------------------------------- panel letters
for L, lx, ly in [("A", 12, 8), ("B", 318, 8), ("C", 10, 248), ("D", 12, 603), ("E", 312, 603),
                  ("F", 521, 603), ("G", 660, 613), ("H", 12, 837), ("I", 310, 837), ("J", 520, 837),
                  ("K", 660, 837)]:
    text(fx(lx), fy(ly), "<b>%s</b>" % L, 12.5)

fig.update_layout(width=W, height=H, margin=dict(l=0, r=0, t=0, b=0), showlegend=False,
                  plot_bgcolor="white", paper_bgcolor="white", font=dict(family=FONT, color="black"),
                  annotations=ANN, shapes=SHP, **LAYOUT)
fig.write_html("out.html", config={"displayModeBar": False},
               post_script="document.body.style.margin='0px';")
